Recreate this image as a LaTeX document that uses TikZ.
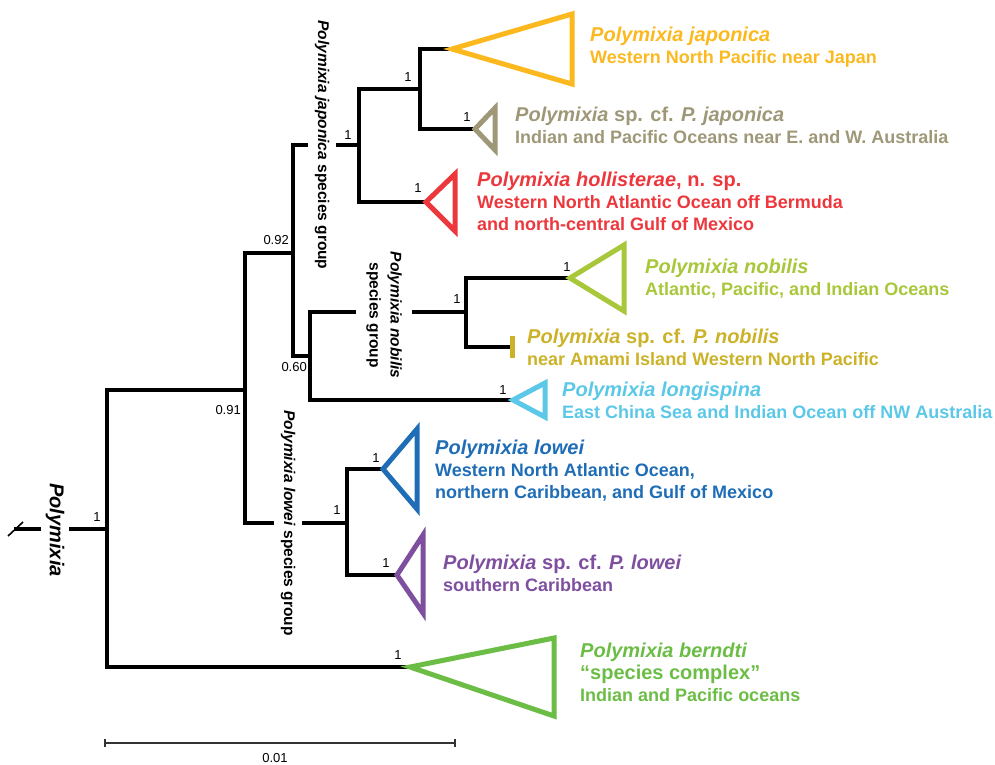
\documentclass[tikz,border=0pt]{standalone}
\usepackage{fontspec}
\setmainfont{Liberation Sans}
\usepackage{xcolor}
\usepackage{tikz}
\usetikzlibrary{positioning}

\definecolor{japcol}{HTML}{FBB91F}
\definecolor{cfjapcol}{HTML}{9E9878}
\definecolor{holcol}{HTML}{EC383D}
\definecolor{nobcol}{HTML}{A8C73A}
\definecolor{cfnobcol}{HTML}{CBB229}
\definecolor{loncol}{HTML}{5BC8E8}
\definecolor{lowcol}{HTML}{1F6DB6}
\definecolor{cflowcol}{HTML}{7E4F9F}
\definecolor{bercol}{HTML}{6BBD45}

\begin{document}
\begin{tikzpicture}[
    x=1pt, y=-1pt,
    branch/.style={line width=3.2pt, draw=black},
    clade/.style={line width=5pt, line join=miter},
    support/.style={font=\fontsize{13}{13}\selectfont, inner sep=0pt},
    taxon/.style={anchor=base west, align=left, inner sep=0pt, font=\bfseries\fontsize{18}{22}\selectfont},
    grouplabel/.style={rotate=-90, fill=white, inner sep=7pt, align=center, font=\bfseries\fontsize{15.5}{21}\selectfont},
    scalebar/.style={line width=2pt, draw=black!80}
]

\useasboundingbox (0,0) rectangle (995,764);

% Internal nodes
\coordinate (stub) at (14,529);
\coordinate (root) at (107,529);
\coordinate (n91) at (245,390);
\coordinate (n92) at (293,253);
\coordinate (n60) at (310,356);
\coordinate (njap) at (359,145);
\coordinate (njj) at (420,89);
\coordinate (nnob) at (466,312);
\coordinate (nlow) at (347,523);

% Clade tips
\coordinate (tjap) at (452,49);
\coordinate (tcfjap) at (475,129);
\coordinate (thol) at (426,202);
\coordinate (tnob) at (570,278);
\coordinate (tcfnob) at (510,347);
\coordinate (tlon) at (513,400);
\coordinate (tlow) at (383,469);
\coordinate (tcflow) at (397,575);
\coordinate (tber) at (410,667);

% Branches
\draw [branch] (stub) -- (root);
\draw [branch, line width=1.6pt] (stub) +(-6,7) -- +(9,-7);
\draw [branch] (root) |- (n91);
\draw [branch] (root) |- (tber);
\draw [branch] (n91) |- (n92);
\draw [branch] (n91) |- (nlow);
\draw [branch] (n92) |- (njap);
\draw [branch] (n92) |- (n60);
\draw [branch] (njap) |- (njj);
\draw [branch] (njap) |- (thol);
\draw [branch] (njj) |- (tjap);
\draw [branch] (njj) |- (tcfjap);
\draw [branch] (n60) |- (nnob);
\draw [branch] (n60) |- (tlon);
\draw [branch] (nnob) |- (tnob);
\draw [branch] (nnob) |- (tcfnob);
\draw [branch] (nlow) |- (tlow);
\draw [branch] (nlow) |- (tcflow);

% Collapsed clades
\draw [clade, draw=japcol] (tjap) -- ++(120,-35) -- ++(0,70) -- cycle;
\draw [clade, draw=cfjapcol] (tcfjap) -- ++(20,-21) -- ++(0,42) -- cycle;
\draw [clade, draw=holcol] (thol) -- ++(29,-28) -- ++(0,57) -- cycle;
\draw [clade, draw=nobcol] (tnob) -- ++(54,-33) -- ++(0,66) -- cycle;
\draw [clade, draw=cfnobcol] (tcfnob) ++(2,-11) -- ++(0,22);
\draw [clade, draw=loncol] (tlon) -- ++(32,-17) -- ++(0,34) -- cycle;
\draw [clade, draw=lowcol] (tlow) -- ++(34,-40) -- ++(0,80) -- cycle;
\draw [clade, draw=cflowcol] (tcflow) -- ++(26,-40) -- ++(0,78) -- cycle;
\draw [clade, draw=bercol] (tber) -- ++(144,-29) -- ++(0,78) -- cycle;

% Group labels
\node (genus) [grouplabel, inner sep=5pt, font=\bfseries\itshape\fontsize{20}{22}\selectfont] at (55,530) {Polymixia};
\node (japgroup) [grouplabel] at (322,145) {\textit{Polymixia japonica} species group};
\node (nobgroup) [grouplabel, inner sep=10pt] at (384,315) {\textit{Polymixia nobilis}\\species group};
\node (lowgroup) [grouplabel] at (288,523) {\textit{Polymixia lowei} species group};

% Support values
\node (sroot) [support] at (97,517) {1};
\node (s91) [support, anchor=east] at (241,410) {0.91};
\node (s92) [support, anchor=east] at (289,240) {0.92};
\node (s60) [support, anchor=east] at (307,367) {0.60};
\node (sjap) [support] at (348,135) {1};
\node (sjj) [support] at (408,77) {1};
\node (scfjap) [support] at (467,117) {1};
\node (shol) [support] at (418,188) {1};
\node (snnob) [support] at (457,299) {1};
\node (snob) [support] at (567,267) {1};
\node (slon) [support] at (503,390) {1};
\node (snlow) [support] at (337,510) {1};
\node (slow) [support] at (376,458) {1};
\node (scflow) [support] at (386,563) {1};
\node (sber) [support] at (398,655) {1};

% Taxa (placed at the baseline of the last line)
\node (jap) [taxon, text=japcol] at (590,63) {{\fontsize{20}{22}\selectfont\textit{Polymixia japonica}}\\Western North Pacific near Japan};
\node (cfjap) [taxon, text=cfjapcol] at (515,143) {{\fontsize{20}{22}\selectfont\textit{Polymixia} sp. cf. \textit{P. japonica}}\\Indian and Pacific Oceans near E. and W. Australia};
\node (hol) [taxon, text=holcol] at (477,230) {{\fontsize{20}{22}\selectfont\textit{Polymixia hollisterae}, n. sp.}\\Western North Atlantic Ocean off Bermuda\\and north-central Gulf of Mexico};
\node (nob) [taxon, text=nobcol] at (645,295) {{\fontsize{20}{22}\selectfont\textit{Polymixia nobilis}}\\Atlantic, Pacific, and Indian Oceans};
\node (cfnob) [taxon, text=cfnobcol] at (527,365) {{\fontsize{20}{22}\selectfont\textit{Polymixia} sp. cf. \textit{P. nobilis}}\\near Amami Island Western North Pacific};
\node (lon) [taxon, text=loncol] at (562,418) {{\fontsize{20}{22}\selectfont\textit{Polymixia longispina}}\\East China Sea and Indian Ocean off NW Australia};
\node (low) [taxon, text=lowcol] at (435,498) {{\fontsize{20}{22}\selectfont\textit{Polymixia lowei}}\\Western North Atlantic Ocean,\\northern Caribbean, and Gulf of Mexico};
\node (cflow) [taxon, text=cflowcol] at (443,591) {{\fontsize{20}{22}\selectfont\textit{Polymixia} sp. cf. \textit{P. lowei}}\\southern Caribbean};
\node (ber) [taxon, text=bercol] at (580,701) {{\fontsize{20}{22}\selectfont\textit{Polymixia berndti}}\\{\fontsize{20}{22}\selectfont “species complex”}\\Indian and Pacific oceans};

% Scale bar
\coordinate (sbl) at (105,743);
\coordinate (sbr) at (455,743);
\draw [scalebar] (sbl) -- (sbr);
\draw [scalebar] (sbl) ++(0,-4) -- ++(0,8);
\draw [scalebar] (sbr) ++(0,-4) -- ++(0,8);
\node (sblabel) [support] at (275,758) {0.01};

\end{tikzpicture}
\end{document}
